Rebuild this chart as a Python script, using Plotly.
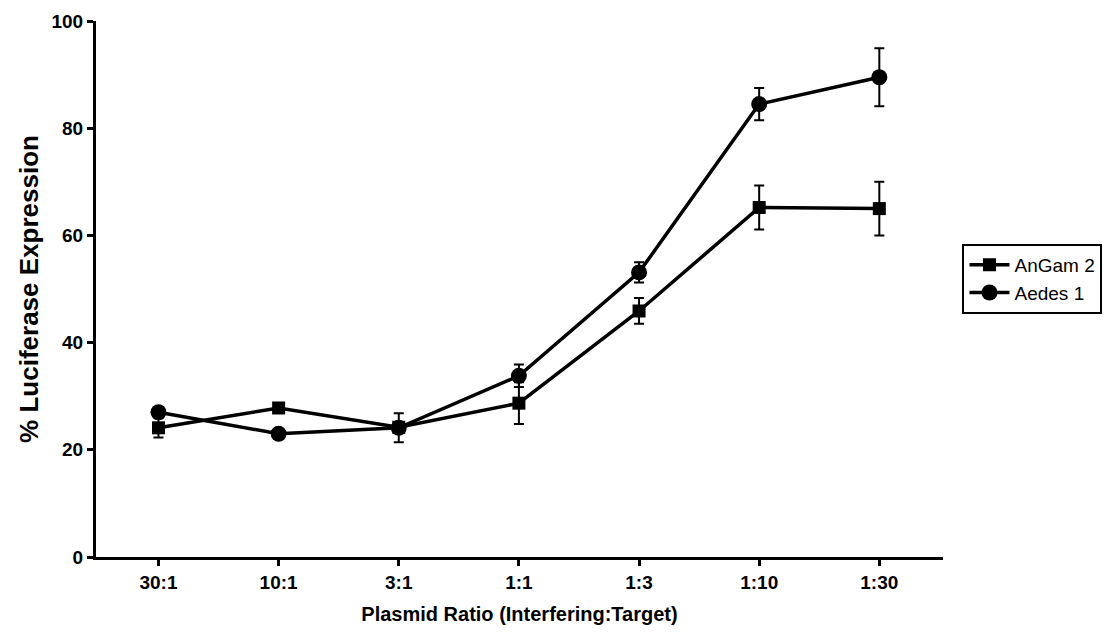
import plotly.graph_objects as go

categories = ["30:1", "10:1", "3:1", "1:1", "1:3", "1:10", "1:30"]
angam2 = [24.1, 27.8, 24.2, 28.7, 45.9, 65.2, 65.0]
angam2_err = [1.8, 0.5, 1.0, 3.9, 2.4, 4.1, 5.0]
aedes1 = [27.0, 23.0, 24.1, 33.8, 53.1, 84.5, 89.5]
aedes1_err = [0.5, 0.5, 2.7, 2.1, 1.9, 3.0, 5.4]
y_ticks = [0, 20, 40, 60, 80, 100]

font_family = "Liberation Sans, Arial, sans-serif"

fig = go.Figure()
fig.add_trace(go.Scatter(
    x=categories, y=angam2, name="AnGam 2", mode="lines+markers",
    line=dict(color="black", width=3.5),
    marker=dict(symbol="square", size=13, color="black"),
    error_y=dict(type="data", array=angam2_err, visible=True, color="black", thickness=2, width=5),
))
fig.add_trace(go.Scatter(
    x=categories, y=aedes1, name="Aedes 1", mode="lines+markers",
    line=dict(color="black", width=3.5),
    marker=dict(symbol="circle", size=16, color="black"),
    error_y=dict(type="data", array=aedes1_err, visible=True, color="black", thickness=2, width=5),
))

fig.update_layout(
    width=1114, height=634,
    margin=dict(l=96, r=171, t=21, b=77, autoexpand=False),
    paper_bgcolor="white", plot_bgcolor="white",
    font=dict(family=font_family, color="black"),
    showlegend=True,
    legend=dict(
        xref="container", yref="container",
        x=0.864, y=0.56, xanchor="left", yanchor="middle",
        bordercolor="black", borderwidth=2,
        font=dict(size=19, color="black"),
        tracegroupgap=0, itemwidth=40,
    ),
    xaxis=dict(
        type="category", range=[-0.52, 6.53],
        tickvals=categories, ticktext=["<b>%s</b>" % c for c in categories],
        showline=True, linecolor="black", linewidth=3,
        ticks="outside", ticklen=6, tickwidth=2.5, tickcolor="black",
        showgrid=False, zeroline=False,
        tickfont=dict(size=19, family=font_family, color="black"),
        title=dict(text="<b>Plasmid Ratio (Interfering:Target)</b>", font=dict(size=20), standoff=16),
    ),
    yaxis=dict(
        range=[0, 100], tickvals=y_ticks, ticktext=["<b>%d</b>" % v for v in y_ticks],
        showline=True, linecolor="black", linewidth=3,
        ticks="outside", ticklen=6, tickwidth=2.5, tickcolor="black",
        showgrid=False, zeroline=False,
        tickfont=dict(size=19, family=font_family, color="black"),
        title=dict(text="<b>% Luciferase Expression</b>", font=dict(size=26), standoff=6),
    ),
)

fig.write_html("out.html")
